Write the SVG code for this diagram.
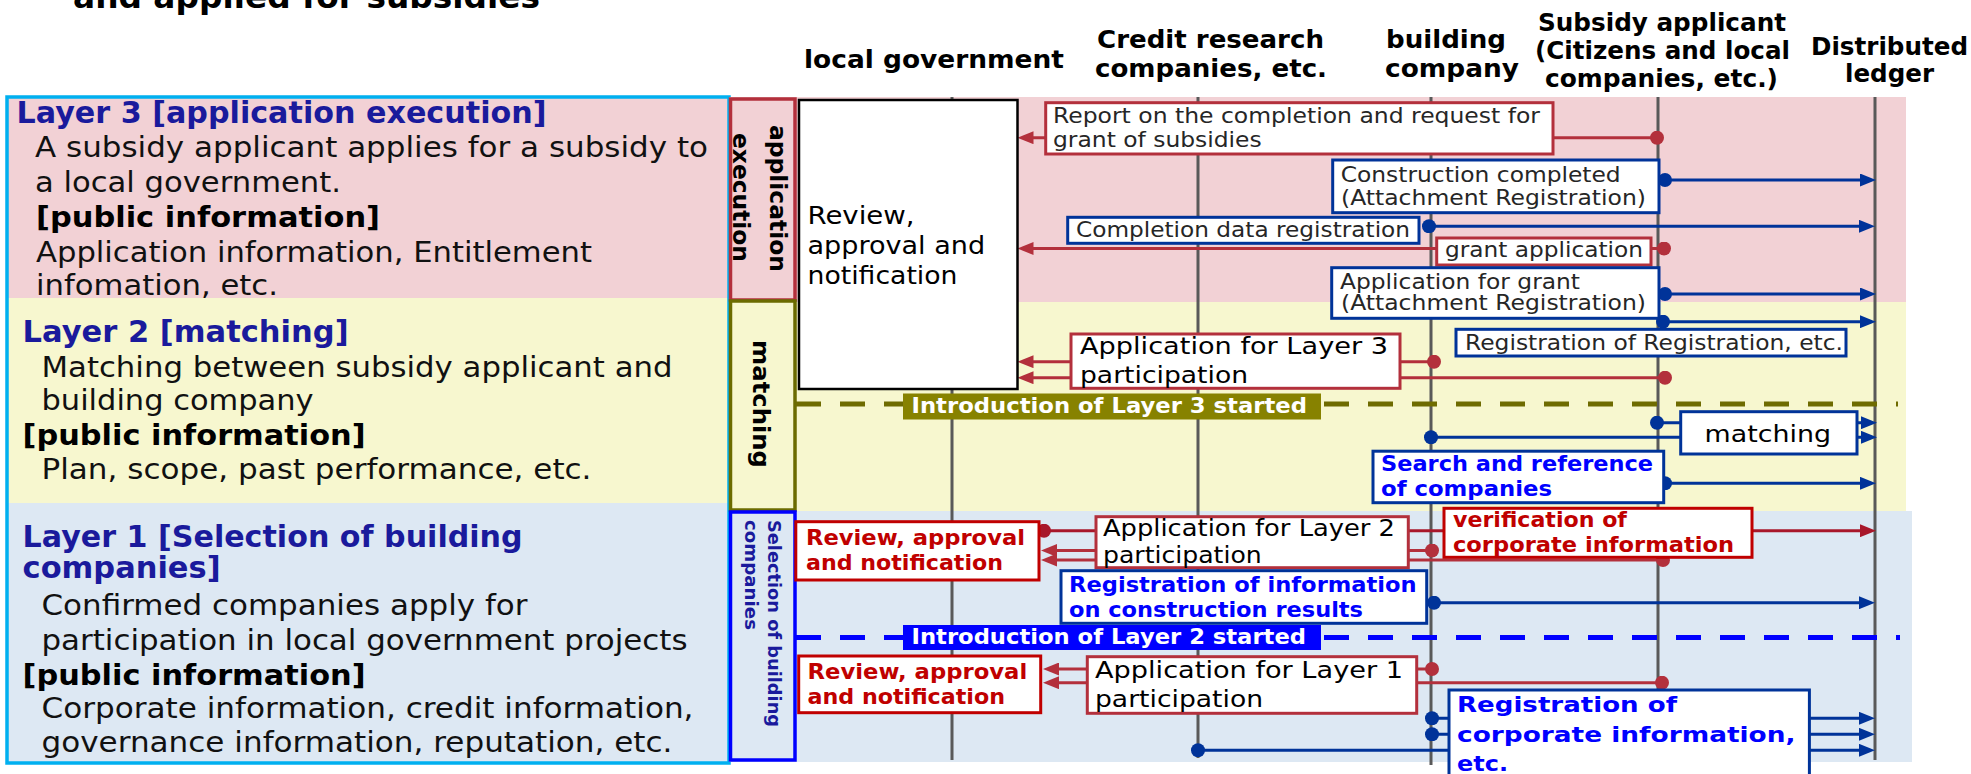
<svg xmlns="http://www.w3.org/2000/svg" width="1971" height="774" viewBox="0 0 1971 774">
<defs>
<style>
text{font-family:"DejaVu Sans","Liberation Sans",sans-serif}
.hd{font-size:25px;font-weight:bold;fill:#000}
.lt{font-size:29.5px;font-weight:bold;fill:#1a1a9c}
.lb{font-size:27.5px;fill:#111}
.lp{font-size:28px;font-weight:bold;fill:#000}
.life{stroke:#595959;stroke-width:3}
.cr{stroke:#b3303c;stroke-width:3;fill:none}
.cr2{stroke:#a8172a;stroke-width:3;fill:none}
.cb{stroke:#003399;stroke-width:3;fill:none}
.bxr{fill:#fff;stroke:#b3303c;stroke-width:3}
.bxR{fill:#fff;stroke:#c00000;stroke-width:3}
.bxb{fill:#fff;stroke:#003399;stroke-width:3}
.m{font-size:21px;fill:#262626}
.ma{font-size:23.5px;fill:#000}
.rb{font-size:20.5px;font-weight:bold;fill:#c00000}
.bb{font-size:21px;font-weight:bold;fill:#0000ff}
.intro{font-size:21.5px;font-weight:bold;fill:#fff}
.side{font-size:23px;font-weight:bold;fill:#000}
</style>
<marker id="arrR" markerUnits="userSpaceOnUse" markerWidth="16" markerHeight="13" viewBox="0 0 16 13" refX="8" refY="6.5" orient="auto"><path d="M0,0 L16,6.5 L0,13 z" fill="#b3303c"/></marker>
<marker id="arrR2" markerUnits="userSpaceOnUse" markerWidth="16" markerHeight="13" viewBox="0 0 16 13" refX="8" refY="6.5" orient="auto"><path d="M0,0 L16,6.5 L0,13 z" fill="#a8172a"/></marker>
<marker id="arrB" markerUnits="userSpaceOnUse" markerWidth="16" markerHeight="13" viewBox="0 0 16 13" refX="8" refY="6.5" orient="auto"><path d="M0,0 L16,6.5 L0,13 z" fill="#003399"/></marker>
<marker id="dotR" markerUnits="userSpaceOnUse" markerWidth="14" markerHeight="14" viewBox="0 0 14 14" refX="7" refY="7"><circle cx="7" cy="7" r="7" fill="#b3303c"/></marker>
<marker id="dotR2" markerUnits="userSpaceOnUse" markerWidth="14" markerHeight="14" viewBox="0 0 14 14" refX="7" refY="7"><circle cx="7" cy="7" r="7" fill="#a8172a"/></marker>
<marker id="dotB" markerUnits="userSpaceOnUse" markerWidth="14" markerHeight="14" viewBox="0 0 14 14" refX="7" refY="7"><circle cx="7" cy="7" r="7" fill="#003399"/></marker>
</defs>

<text x="73" y="8" font-size="32" font-weight="bold" fill="#000" textLength="467" lengthAdjust="spacingAndGlyphs">and applied for subsidies</text>

<g id="headers">
<text class="hd" x="804" y="68" textLength="260" lengthAdjust="spacingAndGlyphs">local government</text>
<text class="hd" x="1097" y="48" textLength="227" lengthAdjust="spacingAndGlyphs">Credit research</text>
<text class="hd" x="1095" y="77" textLength="232" lengthAdjust="spacingAndGlyphs">companies, etc.</text>
<text class="hd" x="1386" y="48" textLength="120" lengthAdjust="spacingAndGlyphs">building</text>
<text class="hd" x="1385" y="77" textLength="134" lengthAdjust="spacingAndGlyphs">company</text>
<text class="hd" x="1538" y="31" textLength="248" lengthAdjust="spacingAndGlyphs">Subsidy applicant</text>
<text class="hd" x="1535" y="59" textLength="255" lengthAdjust="spacingAndGlyphs">(Citizens and local</text>
<text class="hd" x="1545" y="87" textLength="233" lengthAdjust="spacingAndGlyphs">companies, etc.)</text>
<text class="hd" x="1811" y="55" textLength="157" lengthAdjust="spacingAndGlyphs">Distributed</text>
<text class="hd" x="1845" y="82" textLength="89" lengthAdjust="spacingAndGlyphs">ledger</text>
</g>

<g id="layer-panel">
<rect x="7" y="97" width="722" height="201" fill="#f2d1d5"/>
<rect x="7" y="298" width="722" height="205" fill="#f7f7cf"/>
<rect x="7" y="503" width="722" height="260" fill="#dde8f3"/>
<rect x="7" y="97" width="722" height="666" fill="none" stroke="#00b0f0" stroke-width="3.5"/>
<text class="lt" x="16.5" y="123" textLength="530" lengthAdjust="spacingAndGlyphs">Layer 3 [application execution]</text>
<text class="lb" x="35" y="157" textLength="673" lengthAdjust="spacingAndGlyphs">A subsidy applicant applies for a subsidy to</text>
<text class="lb" x="35" y="192" textLength="306" lengthAdjust="spacingAndGlyphs">a local government.</text>
<text class="lp" x="36" y="227" textLength="344" lengthAdjust="spacingAndGlyphs">[public information]</text>
<text class="lb" x="36" y="262" textLength="556" lengthAdjust="spacingAndGlyphs">Application information, Entitlement</text>
<text class="lb" x="36" y="295" textLength="242" lengthAdjust="spacingAndGlyphs">infomation, etc.</text>
<text class="lt" x="22.6" y="342" textLength="326" lengthAdjust="spacingAndGlyphs">Layer 2 [matching]</text>
<text class="lb" x="41.5" y="377" textLength="631" lengthAdjust="spacingAndGlyphs">Matching between subsidy applicant and</text>
<text class="lb" x="41.5" y="410" textLength="272" lengthAdjust="spacingAndGlyphs">building company</text>
<text class="lp" x="22.6" y="445" textLength="343" lengthAdjust="spacingAndGlyphs">[public information]</text>
<text class="lb" x="41.5" y="479" textLength="550" lengthAdjust="spacingAndGlyphs">Plan, scope, past performance, etc.</text>
<text class="lt" x="22.6" y="547" textLength="500" lengthAdjust="spacingAndGlyphs">Layer 1 [Selection of building</text>
<text class="lt" x="22.6" y="578" textLength="198" lengthAdjust="spacingAndGlyphs">companies]</text>
<text class="lb" x="41.5" y="615" textLength="486" lengthAdjust="spacingAndGlyphs">Confirmed companies apply for</text>
<text class="lb" x="41.5" y="650" textLength="646" lengthAdjust="spacingAndGlyphs">participation in local government projects</text>
<text class="lp" x="22.6" y="685" textLength="343" lengthAdjust="spacingAndGlyphs">[public information]</text>
<text class="lb" x="41.5" y="718" textLength="652" lengthAdjust="spacingAndGlyphs">Corporate information, credit information,</text>
<text class="lb" x="41.5" y="752" textLength="631" lengthAdjust="spacingAndGlyphs">governance information, reputation, etc.</text>
</g>

<g id="bands">
<rect x="729" y="97" width="1177" height="205" fill="#f2d1d5"/>
<rect x="729" y="302" width="1177" height="209" fill="#f7f7cf"/>
<rect x="729" y="511" width="1183" height="251" fill="#dde8f3"/>
</g>

<g id="side-application-execution">
<rect x="730.5" y="99" width="64.5" height="201" fill="#f2d1d5" stroke="#b3303c" stroke-width="3.5"/>
<text class="side" transform="rotate(90 769.5 198.5)" x="769.5" y="198.5" text-anchor="middle" textLength="147" lengthAdjust="spacingAndGlyphs">application</text>
<text class="side" transform="rotate(90 733 197.5)" x="733" y="197.5" text-anchor="middle" textLength="129" lengthAdjust="spacingAndGlyphs">execution</text>
</g>
<g id="side-matching">
<rect x="730.5" y="301" width="64.5" height="209" fill="#f7f7cf" stroke="#6b6b00" stroke-width="3.5"/>
<text class="side" font-size="25" transform="rotate(90 753 404)" x="753" y="404" text-anchor="middle" textLength="128" lengthAdjust="spacingAndGlyphs">matching</text>
</g>
<g id="side-selection">
<rect x="730.5" y="512" width="64.5" height="248" fill="#dde8f3" stroke="#0000ff" stroke-width="3.5"/>
<text transform="rotate(90 768 520)" x="768" y="520" font-size="18" font-weight="bold" fill="#1a1a9c" textLength="207" lengthAdjust="spacingAndGlyphs">Selection of building</text>
<text transform="rotate(90 745 520)" x="745" y="520" font-size="18" font-weight="bold" fill="#1a1a9c" textLength="110" lengthAdjust="spacingAndGlyphs">companies</text>
</g>

<g id="lifelines">
<line class="life" x1="952" y1="97" x2="952" y2="760"/>
<line class="life" x1="1198" y1="97" x2="1198" y2="758"/>
<line class="life" x1="1431" y1="97" x2="1431" y2="765"/>
<line class="life" x1="1658" y1="97" x2="1658" y2="762"/>
<line class="life" x1="1875" y1="97" x2="1875" y2="760"/>
</g>

<g id="phase-lines">
<line x1="796" y1="404" x2="1898" y2="404" stroke="#6e6b00" stroke-width="5" stroke-dasharray="25 19"/>
<line x1="796" y1="637.5" x2="1900" y2="637.5" stroke="#0000ff" stroke-width="5" stroke-dasharray="25 19"/>
</g>

<g id="connectors">
<line class="cr" x1="1657" y1="137.7" x2="1025.5" y2="137.7" marker-start="url(#dotR)" marker-end="url(#arrR)"/>
<line class="cr" x1="1664" y1="248.5" x2="1025.5" y2="248.5" marker-start="url(#dotR)" marker-end="url(#arrR)"/>
<line class="cr" x1="1434" y1="361.7" x2="1025.5" y2="361.7" marker-start="url(#dotR)" marker-end="url(#arrR)"/>
<line class="cr" x1="1665" y1="377.7" x2="1025.5" y2="377.7" marker-start="url(#dotR)" marker-end="url(#arrR)"/>
<line class="cr2" x1="1044" y1="530.7" x2="1868" y2="530.7" marker-start="url(#dotR2)" marker-end="url(#arrR2)"/>
<line class="cr" x1="1432" y1="550.5" x2="1049" y2="550.5" marker-start="url(#dotR)" marker-end="url(#arrR)"/>
<line class="cr" x1="1663" y1="560" x2="1049" y2="560" marker-start="url(#dotR)" marker-end="url(#arrR)"/>
<line class="cr" x1="1432" y1="669" x2="1051" y2="669" marker-start="url(#dotR)" marker-end="url(#arrR)"/>
<line class="cr" x1="1662" y1="682.7" x2="1051" y2="682.7" marker-start="url(#dotR)" marker-end="url(#arrR)"/>
<line class="cb" x1="1665" y1="180" x2="1868" y2="180" marker-start="url(#dotB)" marker-end="url(#arrB)"/>
<line class="cb" x1="1429" y1="226.3" x2="1867" y2="226.3" marker-start="url(#dotB)" marker-end="url(#arrB)"/>
<line class="cb" x1="1665" y1="294" x2="1868" y2="294" marker-start="url(#dotB)" marker-end="url(#arrB)"/>
<line class="cb" x1="1663" y1="321.7" x2="1868" y2="321.7" marker-start="url(#dotB)" marker-end="url(#arrB)"/>
<line class="cb" x1="1657" y1="422.7" x2="1869" y2="422.7" marker-start="url(#dotB)" marker-end="url(#arrB)"/>
<line class="cb" x1="1431" y1="437.3" x2="1869" y2="437.3" marker-start="url(#dotB)" marker-end="url(#arrB)"/>
<line class="cb" x1="1665" y1="483.3" x2="1868" y2="483.3" marker-start="url(#dotB)" marker-end="url(#arrB)"/>
<line class="cb" x1="1434" y1="602.7" x2="1867" y2="602.7" marker-start="url(#dotB)" marker-end="url(#arrB)"/>
<line class="cb" x1="1432" y1="718.3" x2="1867" y2="718.3" marker-start="url(#dotB)" marker-end="url(#arrB)"/>
<line class="cb" x1="1432" y1="734.3" x2="1867" y2="734.3" marker-start="url(#dotB)" marker-end="url(#arrB)"/>
<line class="cb" x1="1198" y1="750.3" x2="1867" y2="750.3" marker-start="url(#dotB)" marker-end="url(#arrB)"/>
</g>

<g id="review-main">
<rect x="799" y="100" width="218.5" height="289" fill="#fff" stroke="#000" stroke-width="2.5"/>
<text x="807.5" y="224" font-size="24" fill="#000" textLength="107" lengthAdjust="spacingAndGlyphs">Review,</text>
<text x="807.5" y="253.5" font-size="24" fill="#000" textLength="177.6" lengthAdjust="spacingAndGlyphs">approval and</text>
<text x="807.5" y="284" font-size="24" fill="#000" textLength="150" lengthAdjust="spacingAndGlyphs">notification</text>
</g>

<g id="report-completion">
<rect class="bxr" x="1045.7" y="102.7" width="507.3" height="51.3"/>
<text class="m" x="1053" y="123" textLength="487" lengthAdjust="spacingAndGlyphs">Report on the completion and request for</text>
<text class="m" x="1053" y="147" textLength="208.7" lengthAdjust="spacingAndGlyphs">grant of subsidies</text>
</g>
<g id="construction-completed">
<rect class="bxb" x="1332.7" y="160" width="326.3" height="52.7"/>
<text class="m" x="1340.7" y="181.7" textLength="280" lengthAdjust="spacingAndGlyphs">Construction completed</text>
<text class="m" x="1341" y="205" textLength="305" lengthAdjust="spacingAndGlyphs">(Attachment Registration)</text>
</g>
<g id="completion-data">
<rect class="bxb" x="1067.7" y="217.3" width="351.3" height="26"/>
<text class="m" x="1076" y="237" textLength="334" lengthAdjust="spacingAndGlyphs">Completion data registration</text>
</g>
<g id="grant-application">
<rect class="bxr" x="1436.7" y="238" width="214.3" height="27"/>
<text class="m" x="1445" y="257" textLength="198" lengthAdjust="spacingAndGlyphs">grant application</text>
</g>
<g id="application-for-grant">
<rect class="bxb" x="1331.7" y="267.7" width="327.3" height="50.6"/>
<text class="m" x="1340" y="288.5" textLength="240" lengthAdjust="spacingAndGlyphs">Application for grant</text>
<text class="m" x="1341" y="310" textLength="305" lengthAdjust="spacingAndGlyphs">(Attachment Registration)</text>
</g>
<g id="registration-of-registration">
<rect class="bxb" x="1456" y="329.3" width="390" height="26.7"/>
<text class="m" x="1465" y="350" textLength="378" lengthAdjust="spacingAndGlyphs">Registration of Registration, etc.</text>
</g>
<g id="application-layer3">
<rect class="bxr" x="1071" y="334" width="329" height="54.3"/>
<text class="ma" x="1080" y="354" textLength="308" lengthAdjust="spacingAndGlyphs">Application for Layer 3</text>
<text class="ma" x="1080" y="383" textLength="168" lengthAdjust="spacingAndGlyphs">participation</text>
</g>
<g id="intro-layer3">
<rect x="903" y="393.5" width="418" height="26" fill="#878200"/>
<text class="intro" x="911.5" y="413" textLength="395.5" lengthAdjust="spacingAndGlyphs">Introduction of Layer 3 started</text>
</g>
<g id="matching">
<rect class="bxb" x="1680.7" y="411.7" width="176.3" height="42.3"/>
<text x="1704.5" y="442" font-size="22.5" fill="#000" textLength="126.5" lengthAdjust="spacingAndGlyphs">matching</text>
</g>
<g id="search-reference">
<rect class="bxb" x="1373" y="451.2" width="290.7" height="51.5"/>
<text class="bb" x="1381" y="471" textLength="272" lengthAdjust="spacingAndGlyphs">Search and reference</text>
<text class="bb" x="1381" y="496" textLength="171" lengthAdjust="spacingAndGlyphs">of companies</text>
</g>
<g id="review-layer2">
<rect class="bxR" x="795.8" y="521.7" width="243.2" height="58.3"/>
<text class="rb" x="806" y="545" textLength="219" lengthAdjust="spacingAndGlyphs">Review, approval</text>
<text class="rb" x="806" y="570" textLength="197" lengthAdjust="spacingAndGlyphs">and notification</text>
</g>
<g id="application-layer2">
<rect class="bxr" x="1096" y="516.7" width="312.3" height="51"/>
<text x="1103" y="536" font-size="22.5" fill="#000" textLength="292" lengthAdjust="spacingAndGlyphs">Application for Layer 2</text>
<text x="1103" y="563" font-size="22.5" fill="#000" textLength="158.7" lengthAdjust="spacingAndGlyphs">participation</text>
</g>
<g id="verification">
<rect class="bxR" x="1444" y="508.3" width="308" height="49"/>
<text class="rb" font-size="20" x="1453" y="527" textLength="174" lengthAdjust="spacingAndGlyphs">verification of</text>
<text class="rb" font-size="20" x="1453" y="551.5" textLength="281" lengthAdjust="spacingAndGlyphs">corporate information</text>
</g>
<g id="registration-construction">
<rect class="bxb" x="1061" y="570.7" width="365.7" height="52.6"/>
<text class="bb" font-size="20.5" x="1069" y="591.7" textLength="347.7" lengthAdjust="spacingAndGlyphs">Registration of information</text>
<text class="bb" font-size="20.5" x="1069" y="616.7" textLength="294" lengthAdjust="spacingAndGlyphs">on construction results</text>
</g>
<g id="intro-layer2">
<rect x="903" y="625" width="418" height="25" fill="#0000ff"/>
<text class="intro" x="911.5" y="644" textLength="394.5" lengthAdjust="spacingAndGlyphs">Introduction of Layer 2 started</text>
</g>
<g id="review-layer1">
<rect class="bxR" x="798.7" y="656" width="242" height="56.7"/>
<text class="rb" x="807.5" y="679" textLength="219.7" lengthAdjust="spacingAndGlyphs">Review, approval</text>
<text class="rb" x="807.5" y="704" textLength="197.5" lengthAdjust="spacingAndGlyphs">and notification</text>
</g>
<g id="application-layer1">
<rect class="bxr" x="1087.3" y="656.7" width="329.4" height="56.6"/>
<text class="ma" x="1095" y="678" textLength="308" lengthAdjust="spacingAndGlyphs">Application for Layer 1</text>
<text class="ma" x="1095" y="707" textLength="168" lengthAdjust="spacingAndGlyphs">participation</text>
</g>
<g id="registration-corporate">
<rect class="bxb" x="1449" y="690" width="360.4" height="100"/>
<text class="bb" font-size="23.5" x="1457" y="711.7" textLength="220" lengthAdjust="spacingAndGlyphs">Registration of</text>
<text class="bb" font-size="23.5" x="1457" y="741.7" textLength="338.5" lengthAdjust="spacingAndGlyphs">corporate information,</text>
<text class="bb" font-size="23.5" x="1457" y="771" textLength="51" lengthAdjust="spacingAndGlyphs">etc.</text>
</g>
</svg>
